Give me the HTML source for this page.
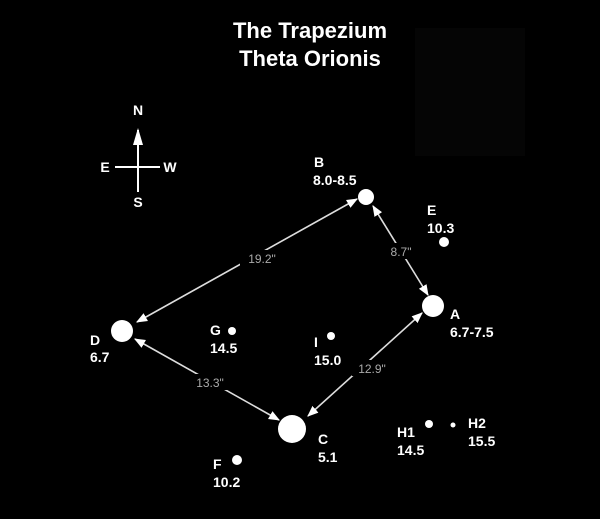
<!DOCTYPE html>
<html><head><style>
html,body{margin:0;padding:0;background:#000;}
svg{display:block}
text{font-family:"Liberation Sans",Arial,sans-serif;}
.w{fill:#fff;font-weight:bold;font-size:14px}
.g{fill:#aaa;font-size:12px}
</style></head><body>
<svg width="600" height="519" viewBox="0 0 600 519">
<rect width="600" height="519" fill="#000"/>
<rect x="415" y="28" width="110" height="128" fill="#050505"/>
<text x="310" y="38" text-anchor="middle" fill="#fff" font-weight="bold" font-size="22">The Trapezium</text>
<text x="310" y="66" text-anchor="middle" fill="#fff" font-weight="bold" font-size="22">Theta Orionis</text>
<defs><marker id="ar" viewBox="0 0 10 10" refX="9" refY="5" markerWidth="7" markerHeight="7" orient="auto-start-reverse"><path d="M0,1 L10,5 L0,9z" fill="#fff"/></marker></defs>
<!-- compass -->
<line x1="138" y1="130" x2="138" y2="192" stroke="#fff" stroke-width="2"/>
<line x1="115" y1="167" x2="160" y2="167" stroke="#fff" stroke-width="2"/>
<path d="M133,145 L138,128 L143,145z" fill="#fff"/>
<text x="138" y="115" class="w" font-size="12" text-anchor="middle">N</text>
<text x="105" y="172" class="w" font-size="12" text-anchor="middle">E</text>
<text x="170" y="172" class="w" font-size="12" text-anchor="middle">W</text>
<text x="138" y="207" class="w" font-size="12" text-anchor="middle">S</text>
<!-- lines -->
<g stroke="#ddd" stroke-width="1.6" marker-start="url(#ar)" marker-end="url(#ar)">
<line x1="137" y1="322" x2="357" y2="199"/>
<line x1="373" y1="206" x2="428" y2="295"/>
<line x1="422" y1="313" x2="308" y2="416"/>
<line x1="135" y1="339" x2="279" y2="420"/>
</g>
<rect x="240" y="250" width="44" height="16" fill="#000"/>
<text x="262" y="263" class="g" text-anchor="middle">19.2"</text>
<rect x="385" y="243" width="32" height="16" fill="#000"/>
<text x="401" y="256" class="g" text-anchor="middle">8.7"</text>
<rect x="352" y="360" width="40" height="16" fill="#000"/>
<text x="372" y="373" class="g" text-anchor="middle">12.9"</text>
<rect x="188" y="374" width="44" height="16" fill="#000"/>
<text x="210" y="387" class="g" text-anchor="middle">13.3"</text>
<!-- stars -->
<g fill="#fff">
<circle cx="366" cy="197" r="8"/>
<circle cx="433" cy="306" r="11"/>
<circle cx="122" cy="331" r="11"/>
<circle cx="292" cy="429" r="14"/>
<circle cx="444" cy="242" r="5"/>
<circle cx="232" cy="331" r="4"/>
<circle cx="331" cy="336" r="4"/>
<circle cx="429" cy="424" r="4"/>
<circle cx="453" cy="425" r="2.5"/>
<circle cx="237" cy="460" r="5"/>
</g>
<text class="w" x="314" y="167">B</text><text class="w" x="313" y="185">8.0-8.5</text>
<text class="w" x="427" y="215">E</text><text class="w" x="427" y="233">10.3</text>
<text class="w" x="450" y="319">A</text><text class="w" x="450" y="337">6.7-7.5</text>
<text class="w" x="90" y="345">D</text><text class="w" x="90" y="362">6.7</text>
<text class="w" x="210" y="335">G</text><text class="w" x="210" y="353">14.5</text>
<text class="w" x="314" y="347">I</text><text class="w" x="314" y="365">15.0</text>
<text class="w" x="318" y="444">C</text><text class="w" x="318" y="462">5.1</text>
<text class="w" x="397" y="437">H1</text><text class="w" x="397" y="455">14.5</text>
<text class="w" x="468" y="428">H2</text><text class="w" x="468" y="446">15.5</text>
<text class="w" x="213" y="469">F</text><text class="w" x="213" y="487">10.2</text>
</svg>
</body></html>
